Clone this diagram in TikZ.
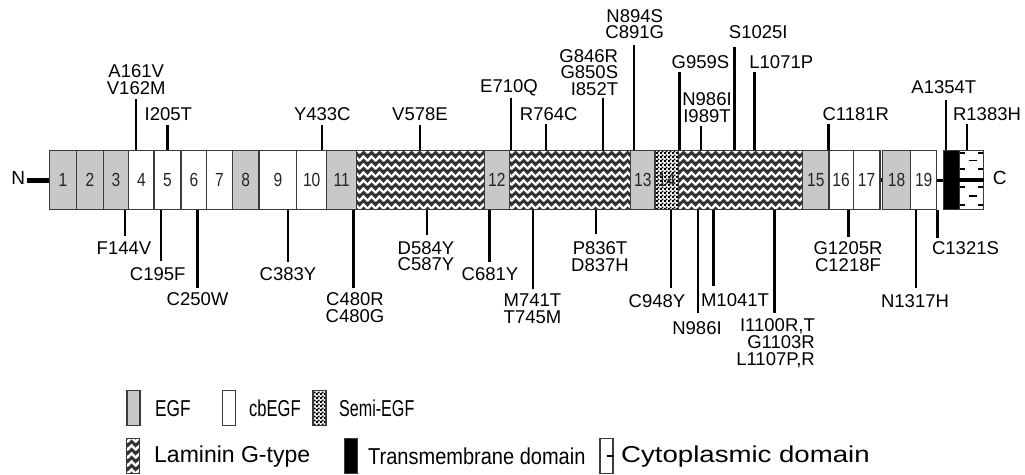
\documentclass[tikz,border=0pt]{standalone}
\usepackage{fontspec}
\setmainfont{Liberation Sans}
\usepackage{graphicx}
\usetikzlibrary{patterns}
\definecolor{egfgray}{HTML}{C8C8C8}
\definecolor{bord}{HTML}{3A3A3A}
\definecolor{lamdark}{HTML}{333333}
\pgfdeclarepatternformonly{chev}{\pgfpointorigin}{\pgfpoint{8pt}{8pt}}{\pgfpoint{8pt}{8pt}}{%
  \pgfsetlinewidth{2.7pt}\pgfsetrectcap\pgfsetmiterjoin
  \pgfpathmoveto{\pgfpoint{0pt}{2pt}}\pgfpathlineto{\pgfpoint{4pt}{6pt}}\pgfpathlineto{\pgfpoint{8pt}{2pt}}%
  \pgfusepath{stroke}}
\pgfdeclarepatternformonly{fchk}{\pgfpointorigin}{\pgfpoint{4pt}{4pt}}{\pgfpoint{4pt}{4pt}}{%
  \pgfpathrectangle{\pgfpointorigin}{\pgfpoint{2.2pt}{2.2pt}}%
  \pgfpathrectangle{\pgfpoint{2pt}{2pt}}{\pgfpoint{2.2pt}{2.2pt}}\pgfusepath{fill}}
\newcommand\numf[1]{\scalebox{0.82}[1]{#1}}
\begin{document}
\begin{tikzpicture}[x=1pt,y=-1pt,
  bx/.style={draw=bord,line width=1.4pt,inner sep=0pt,minimum height=59pt,
    font=\fontsize{19}{20}\selectfont,text=black!85},
  egf/.style={bx,fill=egfgray},
  cb/.style={bx,fill=white},
  lamfill/.style={preaction={fill=lamdark},pattern=chev,pattern color=white},
  lam/.style={bx,lamfill},
  semifill/.style={preaction={fill=white},pattern=fchk,pattern color=black},
  semi/.style={bx,semifill},
  tmd/.style={bx,fill=black},
  cyd/.style={bx,fill=white},
  mut/.style={line width=2.4pt},
  lbl/.style={font=\fontsize{18.5}{16.8}\selectfont,inner sep=0pt,align=center},
  lblr/.style={lbl,align=right,anchor=east},
  endl/.style={font=\fontsize{19}{20}\selectfont,inner sep=0pt},
  legbox/.style={draw=bord,line width=1.3pt,inner sep=0pt,minimum width=13pt,minimum height=35pt},
  legtxt/.style={font=\fontsize{23}{25}\selectfont,inner sep=0pt,anchor=west}]
\useasboundingbox (0,0) rectangle (1025,474);

% N-terminal
\node[endl] (N) at (18.3,178.3) {N};
\coordinate (nstart) at (27,180);
% domains
\node[egf,minimum width=27.4pt] (d1) at (63,180) {\numf{1}};
\node[egf,minimum width=26.6pt] (d2) at (90,180) {\numf{2}};
\node[egf,minimum width=25.4pt] (d3) at (116,180) {\numf{3}};
\node[cb,minimum width=25.3pt] (d4) at (141.35,180) {\numf{4}};
\node[cb,minimum width=27pt] (d5) at (167.5,180) {\numf{5}};
\node[cb,minimum width=25.7pt] (d6) at (193.85,180) {\numf{6}};
\node[cb,minimum width=25.6pt] (d7) at (219.5,180) {\numf{7}};
\node[egf,minimum width=26.7pt] (d8) at (245.65,180) {\numf{8}};
\node[cb,minimum width=37.7pt] (d9) at (277.85,180) {\numf{9}};
\node[cb,minimum width=30pt] (d10) at (311.7,180) {\numf{10}};
\node[egf,minimum width=29.8pt] (d11) at (341.6,180) {\numf{11}};
\node[lam,minimum width=127.8pt] (l1) at (420.4,180) {};
\node[egf,minimum width=25pt] (d12) at (496.8,180) {\numf{12}};
\node[lam,minimum width=121.4pt] (l2) at (570,180) {};
\node[egf,minimum width=24.3pt] (d13) at (642.85,180) {\numf{13}};
\node[semi,minimum width=23.3pt] (d14) at (666.65,180) {\numf{14}};
\node[lam,minimum width=124.4pt] (l3) at (740.5,180) {};
\node[egf,minimum width=26.3pt] (d15) at (815.85,180) {\numf{15}};
\node[cb,minimum width=24.3pt] (d16) at (841.15,180) {\numf{16}};
\node[cb,minimum width=26.7pt] (d17) at (866.65,180) {\numf{17}};
\node[egf,minimum width=28.4pt] (d18) at (896.5,180) {\numf{18}};
\node[cb,minimum width=26pt] (d19) at (923.7,180) {\numf{19}};
\node[tmd,minimum width=16pt] (tm) at (951.3,180) {};
\node[cyd,minimum width=24pt] (cy) at (971.3,180) {};
\node[endl] (C) at (999.7,178.3) {C};

% connectors along the chain
\draw[line width=5pt] (nstart) -- (d1.west);
\draw[line width=4pt] (d17.east) -- (d18.west);
\draw[line width=3pt] (d19.east) -- (tm.west);

% cytoplasmic domain detail
\fill (cy.west |- 0,177.6) rectangle (cy.east |- 0,181.6);
\begin{scope}[line width=1.8pt]
  \foreach \yy in {153,169,187,205} {
    \draw (959.5,\yy) -- (964.5,\yy);
    \draw (977.5,\yy) -- (983,\yy);
  }
  \foreach \yy in {160.5,196} {
    \draw (968.5,\yy) -- (977,\yy);
  }
\end{scope}

% ---------- upper mutations ----------
\node[lbl] (u1) at (136.2,79.7) {A161V\\V162M};
\coordinate (u1t) at (136,99.3);
\node[lbl] (u2) at (168.3,114) {I205T};
\coordinate (u2t) at (167.3,125);
\node[lbl] (u3) at (322.3,114) {Y433C};
\coordinate (u3t) at (322,125);
\node[lbl] (u4) at (420,114) {V578E};
\coordinate (u4t) at (420,125);
\node[lbl] (u5) at (509,87.3) {E710Q};
\coordinate (u5t) at (511,97.7);
\node[lbl] (u6) at (548.7,114.3) {R764C};
\coordinate (u6t) at (546,124.3);
\node[lblr] (u7) at (618.3,72.6) {G846R\\G850S\\I852T};
\coordinate (u7t) at (602.7,97.7);
\node[lbl] (u8) at (634.7,24.2) {N894S\\C891G};
\coordinate (u8t) at (634,45);
\node[lbl] (u9) at (700.5,61.7) {G959S};
\coordinate (u9t) at (679.3,72.3);
\node[lbl] (u10) at (707,107.7) {N986I\\I989T};
\coordinate (u10t) at (700.7,126);
\node[lbl] (u11) at (758.3,32.3) {S1025I};
\coordinate (u11t) at (734.3,46.7);
\node[lbl] (u12) at (781.3,61.7) {L1071P};
\coordinate (u12t) at (754.3,72.3);
\node[lbl] (u13) at (855.8,114.3) {C1181R};
\coordinate (u13t) at (828.3,124.3);
\node[lbl] (u14) at (943.8,87.3) {A1354T};
\coordinate (u14t) at (945.7,100);
\node[lbl] (u15) at (987,114.3) {R1383H};
\coordinate (u15t) at (966.7,124.3);
\foreach \i in {1,...,15} {
  \draw[mut] (u\i t) -- (u\i t |- d1.north);
}

% ---------- lower mutations ----------
\node[lbl] (w1) at (124,248.3) {F144V};
\coordinate (w1b) at (125,236);
\node[lbl] (w2) at (157.7,274) {C195F};
\coordinate (w2b) at (160.7,260.7);
\node[lbl] (w3) at (197.5,299.3) {C250W};
\coordinate (w3b) at (197.3,288.3);
\node[lbl] (w4) at (288,274) {C383Y};
\coordinate (w4b) at (287.7,261.7);
\node[lbl] (w5) at (355,308) {C480R\\C480G};
\coordinate (w5b) at (353.3,288.3);
\node[lbl] (w6) at (426,256.2) {D584Y\\C587Y};
\coordinate (w6b) at (426.7,235);
\node[lbl] (w7) at (490,274) {C681Y};
\coordinate (w7b) at (489.3,261.7);
\node[lbl] (w8) at (532.5,308.7) {M741T\\T745M};
\coordinate (w8b) at (532.7,289);
\node[lbl] (w9) at (600,256.3) {P836T\\D837H};
\coordinate (w9b) at (596,234.3);
\node[lbl] (w10) at (657,301) {C948Y};
\coordinate (w10b) at (671,287.7);
\node[lbl] (w11) at (697,327.7) {N986I};
\coordinate (w11b) at (697.7,313.3);
\node[lbl] (w12) at (735,300) {M1041T};
\coordinate (w12b) at (713.3,286);
\node[lblr] (w13) at (815,343.5) {I1100R,T\\G1103R\\L1107P,R};
\coordinate (w13b) at (774.3,313.3);
\node[lbl] (w14) at (848,256.3) {G1205R\\C1218F};
\coordinate (w14b) at (848.3,236.7);
\node[lbl] (w15) at (915,301) {N1317H};
\coordinate (w15b) at (916,287.7);
\node[lbl] (w16) at (965.5,247.7) {C1321S};
\coordinate (w16b) at (937.3,238.3);
\foreach \i in {1,...,16} {
  \draw[mut] (w\i b) -- (w\i b |- d1.south);
}

% ---------- legend ----------
\node[legbox,fill=egfgray] (k1) at (133.5,408) {};
\node[legtxt] (t1) at (155,408.5) {\scalebox{0.75}[1]{EGF}};
\node[legbox,fill=white] (k2) at (229,408) {};
\node[legtxt] (t2) at (249,408.5) {\scalebox{0.72}[1]{cbEGF}};
\node[legbox,semifill] (k3) at (319.5,408) {};
\node[legtxt] (t3) at (339,408.5) {\scalebox{0.7}[1]{Semi-EGF}};
\node[legbox,lamfill] (k4) at (133,456) {};
\node[legtxt] (t4) at (154,456.5) {\scalebox{1.0}[1]{Laminin G-type}};
\node[legbox,fill=black] (k5) at (351,456) {};
\node[legtxt] (t5) at (368,456.5) {\scalebox{0.87}[1]{Transmembrane domain}};
\node[legbox,fill=white] (k6) at (606.5,456) {};
\draw[line width=1.6pt] (k6.center) -- (k6.east);
\node[legtxt] (t6) at (621,456.5) {\scalebox{1.2}[1]{Cytoplasmic domain}};
\end{tikzpicture}
\end{document}
